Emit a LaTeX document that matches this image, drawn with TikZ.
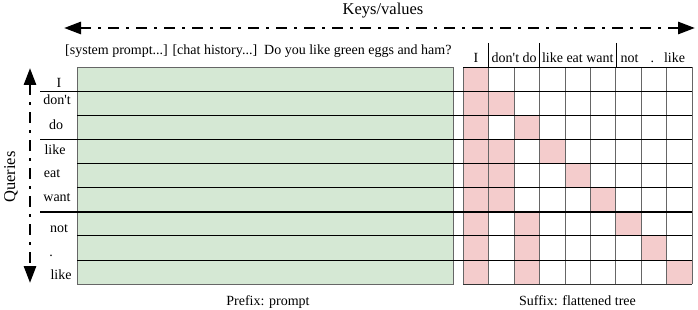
\documentclass[tikz,border=0pt]{standalone}
\usepackage{fontspec}
\setmainfont{Liberation Serif}
\usetikzlibrary{arrows.meta}
\definecolor{prefgreen}{HTML}{D5E8D4}
\definecolor{maskpink}{HTML}{F4CCCC}
\definecolor{bordergray}{HTML}{666666}
\begin{document}
\begin{tikzpicture}[x=1pt,y=-1pt,
  lbl/.style={font=\fontsize{14}{15}\selectfont, inner sep=0pt, anchor=base},
  biglbl/.style={font=\fontsize{16.5}{17}\selectfont, inner sep=0pt, anchor=base},
  dashdot/.style={line width=2.8pt, dash pattern=on 11pt off 7pt on 3pt off 7pt,
    {Triangle[length=17pt,width=12pt]}-{Triangle[length=17pt,width=12pt]}},
  thinrow/.style={line width=0.8pt, black},
  thickrow/.style={line width=1.6pt, black},
  gridcol/.style={line width=1pt, bordergray},
  cellpink/.style={fill=maskpink, draw=none}
]
\useasboundingbox (0,0) rectangle (698,310);
\def\T{67.5}
\def\H{24.05}
\def\GL{463.3}
\def\W{25.44}
% prefix block
\fill[prefgreen] (77,\T) rectangle (453,284);
% pink cells
\foreach \r/\c in {0/0,1/0,1/1,2/0,2/2,3/0,3/1,3/3,4/0,4/1,4/4,5/0,5/1,5/5,6/0,6/2,6/6,7/0,7/2,7/7,8/0,8/2,8/8}{
  \fill[cellpink] ({\GL+\c*\W},{\T+\r*\H}) rectangle ({\GL+(\c+1)*\W},{\T+(\r+1)*\H});
}
% grid columns
\foreach \c in {0,...,9}{
  \draw[gridcol] ({\GL+\c*\W},\T) -- ({\GL+\c*\W},284);
}
% grid top and bottom
\draw[line width=1pt, black] (\GL,\T) -- ({\GL+9*\W},\T);
\draw[line width=1pt, black!80] (\GL,284) -- ({\GL+9*\W},284);
% green border
\draw[line width=1pt, bordergray] (77,\T) rectangle (453,284);
% row lines
\foreach \r in {2,4,5,7,8}{
  \draw[thinrow] (77,{\T+\r*\H}) -- ({\GL+9*\W},{\T+\r*\H});
}
\foreach \r in {1,3,6}{
  \draw[thickrow] (40,{\T+\r*\H}) -- ({\GL+9*\W},{\T+\r*\H});
}
% header separators
\foreach \c in {1,3,6}{
  \draw[line width=0.8pt] ({\GL+\c*\W},43) -- ({\GL+\c*\W},\T);
}
% arrows
\coordinate (kvL) at (64,28);
\coordinate (kvR) at (695,28);
\coordinate (qT) at (30,68);
\coordinate (qB) at (30,283);
\draw[dashdot] (kvL) -- (kvR);
\draw[dashdot] (qT) -- (qB);
% titles
\node[biglbl] (kv) at (383,15) {Keys/values};
\node[biglbl, rotate=90, anchor=base] (qr) at (15,177) {Queries};
\node[lbl, anchor=base west] (prompt) at (65,55) {[system prompt...] [chat history...]\ \ Do you like green eggs and ham?};
% column headers
\node[lbl] (hI) at ({\GL+0.5*\W},63) {I};
\node[lbl] (hdd) at ({\GL+2*\W},63) {don\textquotesingle t do};
\node[lbl] (hlew) at ({\GL+4.5*\W},63) {like eat want};
\node[lbl, anchor=base west] (hnl) at (620.5,63) {not\hspace{12pt}.\hspace{10pt}like};
% row labels
\node[lbl] (rI) at (59,88) {I};
\node[lbl] (rdont) at (57,105) {don\textquotesingle t};
\node[lbl] (rdo) at (56,129) {do};
\node[lbl] (rlike) at (55,154) {like};
\node[lbl] (reat) at (52,177) {eat};
\node[lbl] (rwant) at (57,201) {want};
\node[lbl] (rnot) at (59,232) {not};
\node[lbl] (rdot) at (51,256) {.};
\node[lbl] (rlike2) at (61,279) {like};
% bottom captions
\node[lbl] (pre) at (268,305) {Prefix: prompt};
\node[lbl] (suf) at (577.5,305) {Suffix: flattened tree};
\end{tikzpicture}
\end{document}
